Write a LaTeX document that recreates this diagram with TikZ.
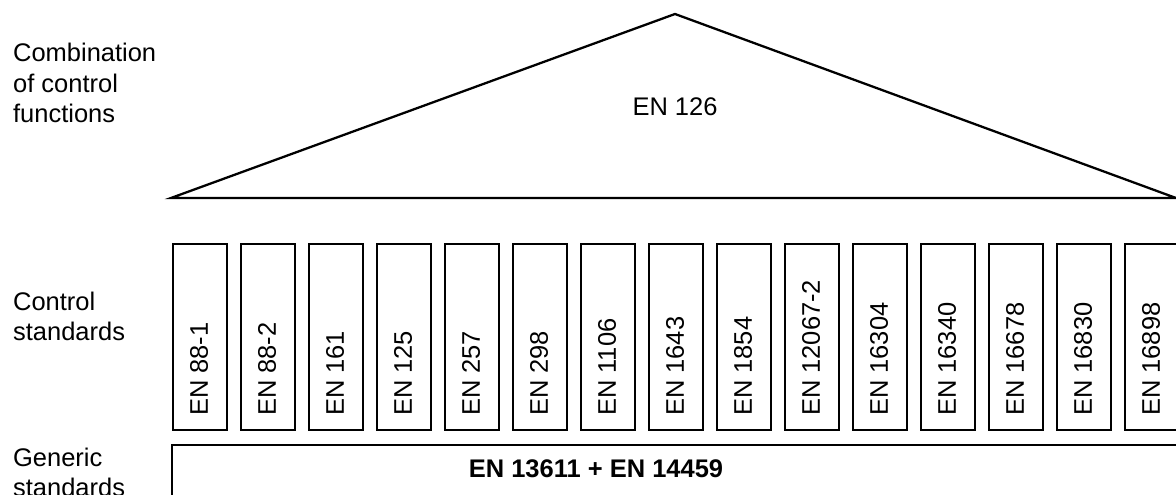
\documentclass[tikz,border=0pt]{standalone}
\usepackage{fontspec}
\setmainfont{Liberation Sans}
\usetikzlibrary{positioning}
\tikzset{
  stdbar/.style={draw=black, line width=1.3pt, minimum width=1.08cm, minimum height=3.72cm, inner sep=0pt},
  stdlabel/.style={rotate=90, anchor=west, inner sep=0pt},
  rowlabel/.style={anchor=base west, align=left, inner sep=0pt},
}

\begin{document}
\begin{tikzpicture}[line width=1.3pt, font=\fontsize{14.5}{17.4}\selectfont]
    \clip (0,0) rectangle (23.52,9.9);

    % row labels on the left (anchored at the last line)
    \node[rowlabel] (combi) at (0.24,7.44) {Combination\\of control\\functions};
    \node[rowlabel] (control) at (0.24,3.08) {Control\\standards};
    \node[rowlabel] (generic) at (0.24,-0.04) {Generic\\standards};

    % roof
    \coordinate (roofl) at (3.42,5.94);
    \coordinate (rooft) at (13.5,9.62);
    \coordinate (roofr) at (23.52,5.94);
    \draw (roofl) -- (rooft) -- (roofr) -- cycle;
    \node[anchor=base] (en126) at (13.5,7.58) {EN 126};

    % pillars
    \foreach \i/\lbl in {0/EN 88-1, 1/EN 88-2, 2/EN 161, 3/EN 125, 4/EN 257,
        5/EN 298, 6/EN 1106, 7/EN 1643, 8/EN 1854, 9/EN 12067-2,
        10/EN 16304, 11/EN 16340, 12/EN 16678, 13/EN 16830, 14/EN 16898} {
      \node[stdbar, anchor=south west] (bar\i) at ({3.44+1.36*\i},1.28) {};
      \node[stdlabel] (lbl\i) at ({3.98+1.36*\i},1.56) {\lbl};
    }

    % base
    \draw (3.44,-1) rectangle (24,1.0);
    \node[anchor=base] (base) at (11.92,0.34) {\textbf{EN 13611 + EN 14459}};
  \end{tikzpicture}
\end{document}
